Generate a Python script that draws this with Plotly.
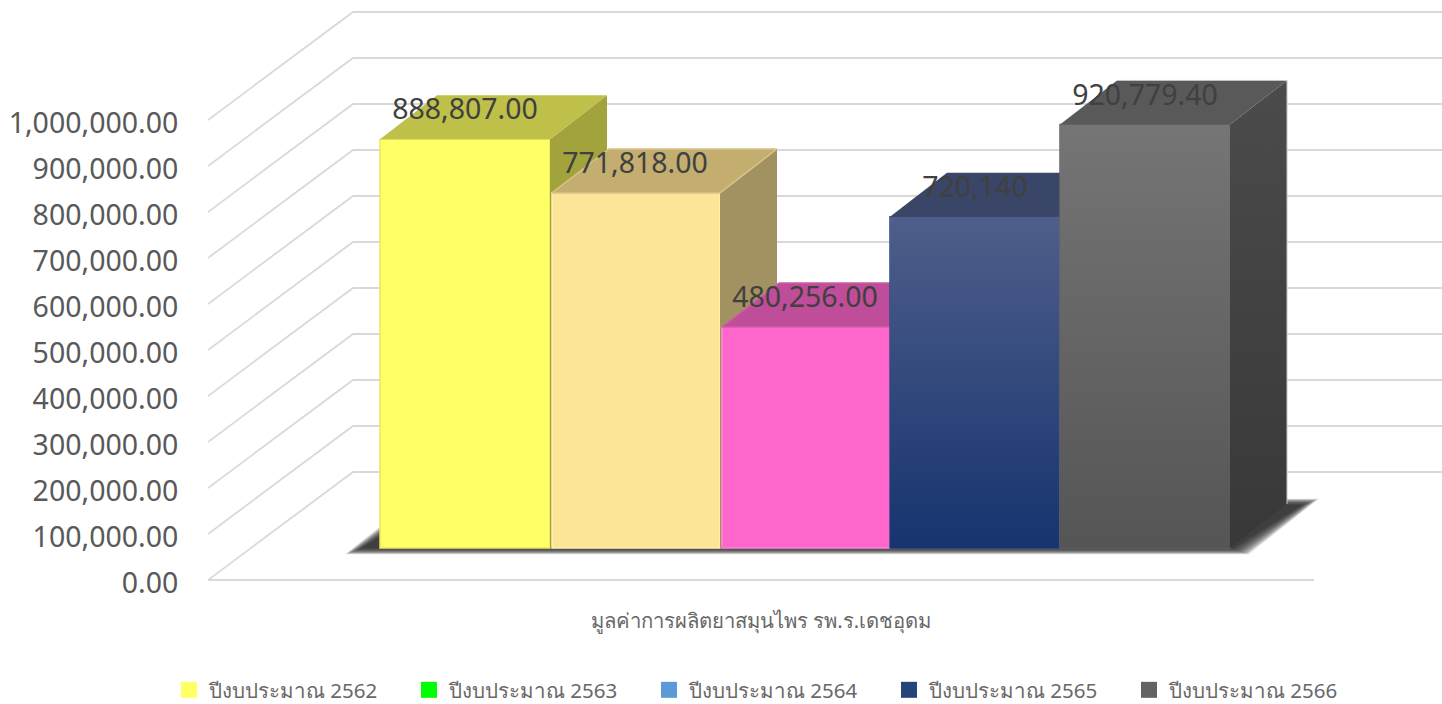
import plotly.graph_objects as go

# ---- data ----
SERIES = ["ปีงบประมาณ 2562", "ปีงบประมาณ 2563", "ปีงบประมาณ 2564", "ปีงบประมาณ 2565", "ปีงบประมาณ 2566"]
VALUES = [888807.00, 771818.00, 480256.00, 720140, 920779.40]
VALUE_LABELS = ["888,807.00", "771,818.00", "480,256.00", "720,140", "920,779.40"]
TICKS = [0, 100000, 200000, 300000, 400000, 500000, 600000, 700000, 800000, 900000, 1000000]
CATEGORY = "มูลค่าการผลิตยาสมุนไพร รพ.ร.เดชอุดม"

# ---- styles ----
FRONT = ["#FFFF66", "#FDE597", "#FF66CC", "#2F4A85", "#646464"]
FRONT_GRAD = [None, None, None, ("#4F5E8A", "#16346F"), ("#757575", "#555555")]
TOP = ["#BFC04A", "#C3AE70", "#BF4D99", "#394668", "#595959"]
TOP_EDGE = [None, "#D6C287", "#CC5CA6", None, None]
SIDE = ["#A3A33D", "#A29161", "#A0407F", "#28345A", None]
SIDE_GRAD = [None, None, None, None, ("#4B4B4B", "#383838")]
EDGE = ["#E8E85C", "#FFEFAE", "#FF85D6", "#2F4A85", "#666666"]
RIM = [None, None, None, None, "#C4C4C4"]
BAR_WIDTH_PX = [170, 168, 168, 170, 170]
LEGEND_COL = ["#FFFF66", "#00FF00", "#5B9BD5", "#264478", "#636363"]
FONT = "Noto Sans, Tahoma, sans-serif"
GRID = "#D9D9D9"

# ---- oblique projection (pixels -> data units) ----
W, H = 1442, 704
PLOT_L, PLOT_B = 208, 600
BAR_PX = 170.0           # one category step in pixels
PX_PER_VAL = 0.00046     # pixels per value unit
FIRST_BAR_PX = 465.0     # pixel centre of first bar
dx = lambda p: p / BAR_PX
dy = lambda p: p / PX_PER_VAL
XMIN, XMAX = dx(PLOT_L - FIRST_BAR_PX), dx(W - FIRST_BAR_PX)
YMIN, YMAX = -dy(PLOT_B - 580), dy(580)
FLOOR = dy(32)            # bars stand this far up the floor
DEPTH_X, DEPTH_Y = dx(57), dy(44)
WALL_X, WALL_Y = dx(145), dy(108)
AXIS_X0 = XMIN
AXIS_X1 = dx(1314 - FIRST_BAR_PX)

fig = go.Figure()

# walls and floor grid
for t in TICKS:
    fig.add_trace(go.Scatter(
        x=[AXIS_X0, AXIS_X0 + WALL_X, XMAX], y=[t, t + WALL_Y, t + WALL_Y],
        mode="lines", line=dict(color=GRID, width=1.8), showlegend=False, hoverinfo="skip"))
fig.add_trace(go.Scatter(x=[AXIS_X0, AXIS_X1], y=[0, 0], mode="lines",
                         line=dict(color=GRID, width=1.8), showlegend=False, hoverinfo="skip"))

# soft floor shadow
n = len(VALUES)
for grow in range(14, -1, -1):
    x0, x1 = -0.5 - dx(18 + grow * 1.2), n - 0.5 + dx(2 + grow * 1.2)
    yb, yt = FLOOR - dy(0 + grow * 0.45), FLOOR + dy(43 + grow * 0.45)
    sx = dx(70)
    fig.add_trace(go.Scatter(
        x=[x0, x1, x1 + sx, x0 + sx, x0], y=[yb, yb, yt, yt, yb], mode="lines",
        line=dict(width=0), fill="toself", fillcolor="rgba(40,40,40,0.13)",
        showlegend=False, hoverinfo="skip"))

# legend entries
for name, col in zip(SERIES, LEGEND_COL):
    fig.add_trace(go.Scatter(x=[None], y=[None], mode="markers", name=name,
                             marker=dict(symbol="square", size=18, color=col)))


def gradient(pair):
    return dict(type="vertical", colorscale=[[0, pair[1]], [1, pair[0]]])


# bars, each on its own overlaying axes so nearer bars cover farther ones
for i, v in enumerate(VALUES):
    ax = i + 2
    xa, ya = f"x{ax}", f"y{ax}"
    w = dx(BAR_WIDTH_PX[i])
    left = i + .5 - w
    fig.add_trace(go.Bar(x=[left + w / 2], y=[v], base=[FLOOR], width=[w], xaxis=xa, yaxis=ya,
                         marker=dict(color=FRONT[i], line=dict(color=EDGE[i], width=1.5)),
                         showlegend=False, hoverinfo="skip"))
    top = v + FLOOR
    if FRONT_GRAD[i]:
        fig.add_trace(go.Scatter(
            x=[left, i + .5, i + .5, left, left], y=[FLOOR, FLOOR, top, top, FLOOR],
            xaxis=xa, yaxis=ya, mode="lines", line=dict(width=0), fill="toself",
            fillgradient=gradient(FRONT_GRAD[i]), showlegend=False, hoverinfo="skip"))
    side = dict(fillcolor=SIDE[i]) if SIDE[i] else dict(fillgradient=gradient(SIDE_GRAD[i]))
    fig.add_trace(go.Scatter(
        x=[i + .5, i + .5 + DEPTH_X, i + .5 + DEPTH_X, i + .5, i + .5],
        y=[FLOOR, FLOOR + DEPTH_Y, top + DEPTH_Y, top, FLOOR],
        xaxis=xa, yaxis=ya, mode="lines", line=dict(width=0), fill="toself",
        showlegend=False, hoverinfo="skip", **side))
    top_line = dict(color=TOP_EDGE[i], width=1.5) if TOP_EDGE[i] else dict(width=0)
    fig.add_trace(go.Scatter(
        x=[left, i + .5, i + .5 + DEPTH_X, left + DEPTH_X, left],
        y=[top, top, top + DEPTH_Y, top + DEPTH_Y, top],
        xaxis=xa, yaxis=ya, mode="lines", line=top_line, fill="toself",
        fillcolor=TOP[i], showlegend=False, hoverinfo="skip"))
    if RIM[i]:
        fig.add_trace(go.Scatter(
            x=[i + .5 + DEPTH_X, i + .5 + DEPTH_X, left + DEPTH_X],
            y=[FLOOR + DEPTH_Y, top + DEPTH_Y, top + DEPTH_Y],
            xaxis=xa, yaxis=ya, mode="lines", line=dict(color=RIM[i], width=1),
            showlegend=False, hoverinfo="skip"))

# value labels (top layer)
fig.add_trace(go.Scatter(
    x=list(range(n)), y=[v + FLOOR + dy(27) for v in VALUES], text=VALUE_LABELS,
    mode="text", textposition="middle center", xaxis=f"x{n + 1}", yaxis=f"y{n + 1}",
    textfont=dict(family=FONT, size=28.5, color="#404040"), showlegend=False, hoverinfo="skip"))

layout = dict(
    width=W, height=H, autosize=False, showlegend=True,
    margin=dict(l=PLOT_L, r=0, t=0, b=H - PLOT_B, pad=0, autoexpand=False),
    paper_bgcolor="white", plot_bgcolor="white", barmode="overlay",
    xaxis=dict(range=[XMIN, XMAX], visible=False, fixedrange=True),
    yaxis=dict(range=[YMIN, YMAX], tickvals=TICKS, tickformat=",.2f", showgrid=False, zeroline=False,
               showline=False, ticks="outside", ticklen=23, tickcolor="rgba(0,0,0,0)", fixedrange=True,
               ticklabelshift=3,
               tickfont=dict(family=FONT, size=28.5, color="#595959")),
    legend=dict(orientation="h", x=(169 - PLOT_L) / (W - PLOT_L), xanchor="left",
                y=(PLOT_B - 690) / PLOT_B, yanchor="middle", entrywidth=195, entrywidthmode="pixels",
                itemsizing="trace", font=dict(family=FONT, size=20.5, color="#686868"),
                bgcolor="rgba(0,0,0,0)"),
    annotations=[dict(text=CATEGORY, xref="x", yref="paper", x=dx(761 - FIRST_BAR_PX),
                      y=(PLOT_B - 620) / PLOT_B,
                      showarrow=False, xanchor="center", yanchor="middle",
                      font=dict(family=FONT, size=20.3, color="#686868"))],
)
for i in range(n):
    ax = i + 2
    layout[f"xaxis{ax}"] = dict(range=[XMIN, XMAX], overlaying="x", visible=False, fixedrange=True)
    layout[f"yaxis{ax}"] = dict(range=[YMIN, YMAX], overlaying="y", visible=False, fixedrange=True)
fig.update_layout(**layout)
fig.write_html("out.html", config=dict(displayModeBar=False),
               post_script="document.body.style.margin='0';document.body.style.overflow='hidden';")
